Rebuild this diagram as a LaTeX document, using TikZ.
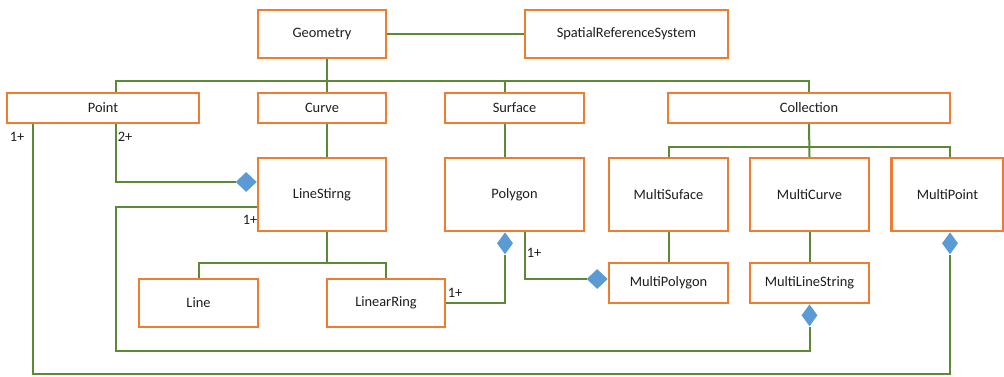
\documentclass[tikz,border=0pt]{standalone}
\usepackage{fontspec}
\setmainfont{Carlito}
\usetikzlibrary{shapes.geometric}
\definecolor{boxor}{HTML}{ED7D31}
\definecolor{lgreen}{HTML}{5A8A36}
\definecolor{dblue}{HTML}{5B9BD5}
\definecolor{txt}{HTML}{1E1E1E}
\tikzset{
  box/.style={draw=boxor, line width=2.2pt, fill=white, rectangle, inner sep=0pt, text=txt, font=\fontsize{14.4}{16}\selectfont},
  conn/.style={draw=lgreen, line width=2pt},
  dh/.style={diamond, fill=dblue, inner sep=0pt, minimum width=21pt, minimum height=20pt},
  dv/.style={diamond, fill=dblue, inner sep=0pt, minimum width=16pt, minimum height=22pt},
  lbl/.style={text=txt, inner sep=0pt, font=\fontsize{14.4}{16}\selectfont}
}
\begin{document}
\begin{tikzpicture}[x=1pt, y=-1pt]
\useasboundingbox (0,0) rectangle (1004,376);
\fill[white] (0,0) rectangle (1004,376);
\coordinate (bar) at (0,81);
\coordinate (cbar) at (0,147);
\coordinate (lbar) at (0,263);
% nodes
\node[box, minimum width=128pt, minimum height=48pt] (geo) at (322,34) {Geometry};
\node[box, minimum width=203pt, minimum height=48pt] (srs) at (626.5,34) {SpatialReferenceSystem};
\node[box, minimum width=192pt, minimum height=30pt] (pt) at (103,108) {Point};
\node[box, minimum width=128pt, minimum height=30pt] (curve) at (322,108) {Curve};
\node[box, minimum width=139pt, minimum height=30pt] (surf) at (514.5,108) {Surface};
\node[box, minimum width=282pt, minimum height=30pt] (coll) at (809,108) {Collection};
\node[box, minimum width=128pt, minimum height=73pt] (ls) at (322,194.5) {LineStirng};
\node[box, minimum width=139pt, minimum height=73pt] (poly) at (514.5,194.5) {Polygon};
\node[box, minimum width=119pt, minimum height=73pt] (msurf) at (668.5,194.5) {MultiSuface};
\node[box, minimum width=119pt, minimum height=73pt] (mcurve) at (809.5,194.5) {MultiCurve};
\node[box, minimum width=112pt, minimum height=73pt] (mpoint) at (947.5,194.5) {MultiPoint};
\node[box, minimum width=119pt, minimum height=40pt] (mpoly) at (668.5,283) {MultiPolygon};
\node[box, minimum width=119pt, minimum height=40pt] (mls) at (809.5,283) {MultiLineString};
\node[box, minimum width=119pt, minimum height=48pt] (line) at (198.5,303) {Line};
\node[box, minimum width=118pt, minimum height=48pt] (lring) at (386,303) {LinearRing};
% diamonds
\node[dh, anchor=east] (d1) at (ls.west |- 0,182) {};
\node[dv, anchor=north] (d2) at (mls.south) {};
\node[dv, anchor=north] (d3) at (mpoint.south -| 950,0) {};
\node[dv, anchor=north] (d4) at (poly.south -| 505,0) {};
\node[dh, anchor=east] (d5) at (mpoly.west |- 0,279) {};
% connectors
\draw[conn] (geo.east) -- (srs.west);
\draw[conn] (geo.south -| 327,0) -- (curve.north -| 327,0);
\draw[conn] (pt.north -| 116,0) |- (coll.north |- bar) -- (coll.north);
\draw[conn] (surf.north -| 505,0) -- (505,81);
\draw[conn] (curve.south -| 327,0) -- (ls.north -| 327,0);
\draw[conn] (surf.south -| 505,0) -- (poly.north -| 505,0);
\draw[conn] (coll.south) -- (mcurve.north);
\draw[conn] (msurf.north) |- (950,147) -- (mpoint.north -| 950,0);
\draw[conn] (msurf.south) -- (mpoly.north);
\draw[conn] (mcurve.south) -- (mls.north);
\draw[conn] (ls.south -| 327,0) -- (lbar -| 327,0);
\draw[conn] (line.north) |- (lring.north |- lbar) -- (lring.north);
\draw[conn] (pt.south -| 116,0) |- (d1.west);
\draw[conn] (ls.west |- 0,207) -| (116,351) -| (d2.south);
\draw[conn] (pt.south -| 33,0) -- (33,374) -| (d3.south);
\draw[conn] (d4.south) |- (lring.east);
\draw[conn] (poly.south -| 525,0) |- (d5.west);
% labels
\node[lbl] (l1) at (17,137) {1+};
\node[lbl] (l2) at (125,137) {2+};
\node[lbl] (l3) at (250,220) {1+};
\node[lbl] (l4) at (455,293) {1+};
\node[lbl] (l5) at (534,253) {1+};
\end{tikzpicture}
\end{document}
